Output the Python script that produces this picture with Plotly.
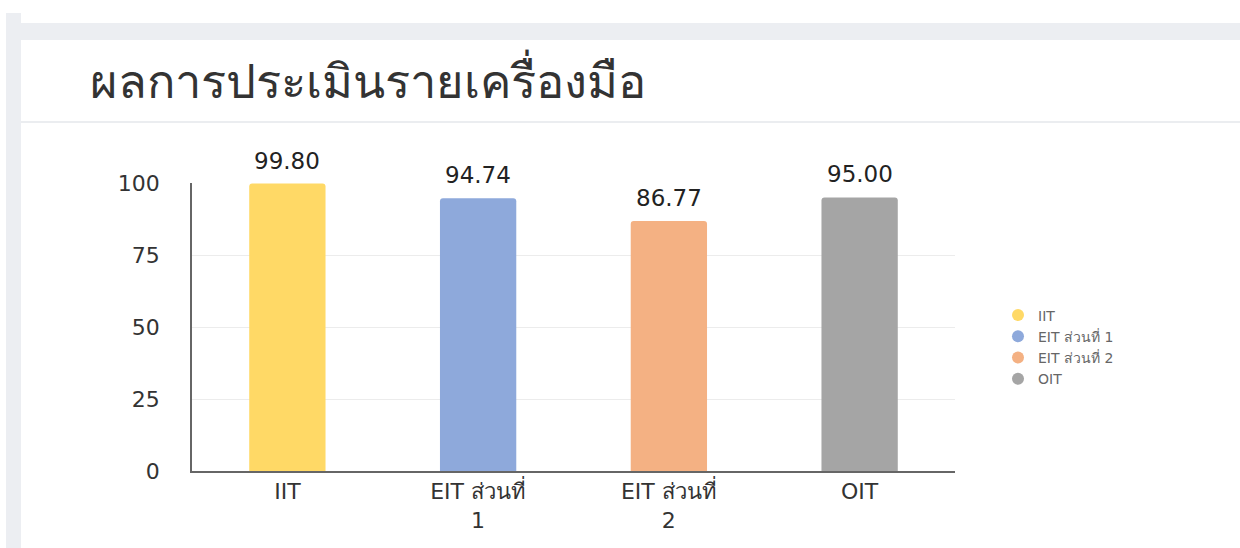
import plotly.graph_objects as go

categories = ["IIT", "EIT ส่วนที่ 1", "EIT ส่วนที่ 2", "OIT"]
tick_labels = ["IIT", "EIT ส่วนที่<br>1", "EIT ส่วนที่<br>2", "OIT"]
values = [99.80, 94.74, 86.77, 95.00]
colors = ["#FFD966", "#8EA9DB", "#F4B183", "#A5A5A5"]
title_text = "ผลการประเมินรายเครื่องมือ"

W, H = 1240, 548
def px(x): return x / W
def py(y): return 1 - y / H

FONT = "DejaVu Sans, Noto Sans, sans-serif"

fig = go.Figure()
fig.add_trace(go.Bar(
    x=categories, y=values, width=0.4,
    marker=dict(color=colors, line=dict(width=0), cornerradius=3),
    showlegend=False, hoverinfo="skip",
))
for c, col in zip(categories, colors):
    fig.add_trace(go.Scatter(
        x=[None], y=[None], mode="markers", name=c,
        marker=dict(symbol="circle", size=13, color=col),
    ))

annotations = [dict(text=title_text, xref="paper", yref="paper", x=px(88), y=py(80),
                    xanchor="left", yanchor="middle", showarrow=False,
                    font=dict(size=47, color="#333333", family="Noto Sans, sans-serif"))]
for c, v in zip(categories, values):
    annotations.append(dict(x=c, y=v, xref="x", yref="y", text=f"{v:.2f}",
                            xanchor="center", yanchor="bottom", yshift=8, showarrow=False,
                            font=dict(size=23, color="#222222", family=FONT)))

shapes = [
    dict(type="rect", xref="paper", yref="paper", x0=px(6), x1=px(21), y0=py(548), y1=py(13),
         fillcolor="#eceef2", line=dict(width=0), layer="below"),
    dict(type="rect", xref="paper", yref="paper", x0=px(21), x1=px(1240), y0=py(40), y1=py(23),
         fillcolor="#eceef2", line=dict(width=0), layer="below"),
    dict(type="line", xref="paper", yref="paper", x0=px(21), x1=px(1240), y0=py(122), y1=py(122),
         line=dict(color="#ebedf0", width=2), layer="below"),
]

fig.update_layout(
    width=W, height=H,
    margin=dict(l=0, r=0, t=0, b=0, pad=0, autoexpand=False),
    paper_bgcolor="white", plot_bgcolor="white",
    font=dict(family=FONT, color="#333333"),
    shapes=shapes,
    annotations=annotations,
    xaxis=dict(domain=[px(192), px(955)], showgrid=False, showline=True,
               linecolor="#666666", linewidth=1.5, ticks="",
               tickmode="array", tickvals=categories, ticktext=tick_labels,
               tickfont=dict(size=22, color="#333333", family=FONT),
               automargin=False, fixedrange=True),
    yaxis=dict(domain=[py(471), py(183)], range=[0, 100], tickvals=[0, 25, 50, 75, 100],
               showgrid=True, gridcolor="#ececec", gridwidth=1,
               showline=True, linecolor="#666666", linewidth=1.5, zeroline=False,
               tickfont=dict(size=22, color="#333333", family=FONT), ticklabelstandoff=26,
               automargin=False, fixedrange=True),
    legend=dict(x=px(998), y=py(347), xanchor="left", yanchor="middle",
                font=dict(size=14, color="#666666", family=FONT),
                itemsizing="constant", tracegroupgap=0, bgcolor="rgba(0,0,0,0)"),
    bargap=0.6,
    showlegend=True,
)

fig.write_html("out.html", config={"displayModeBar": False},
               post_script="document.body.style.margin='0';document.body.style.overflow='hidden';")
